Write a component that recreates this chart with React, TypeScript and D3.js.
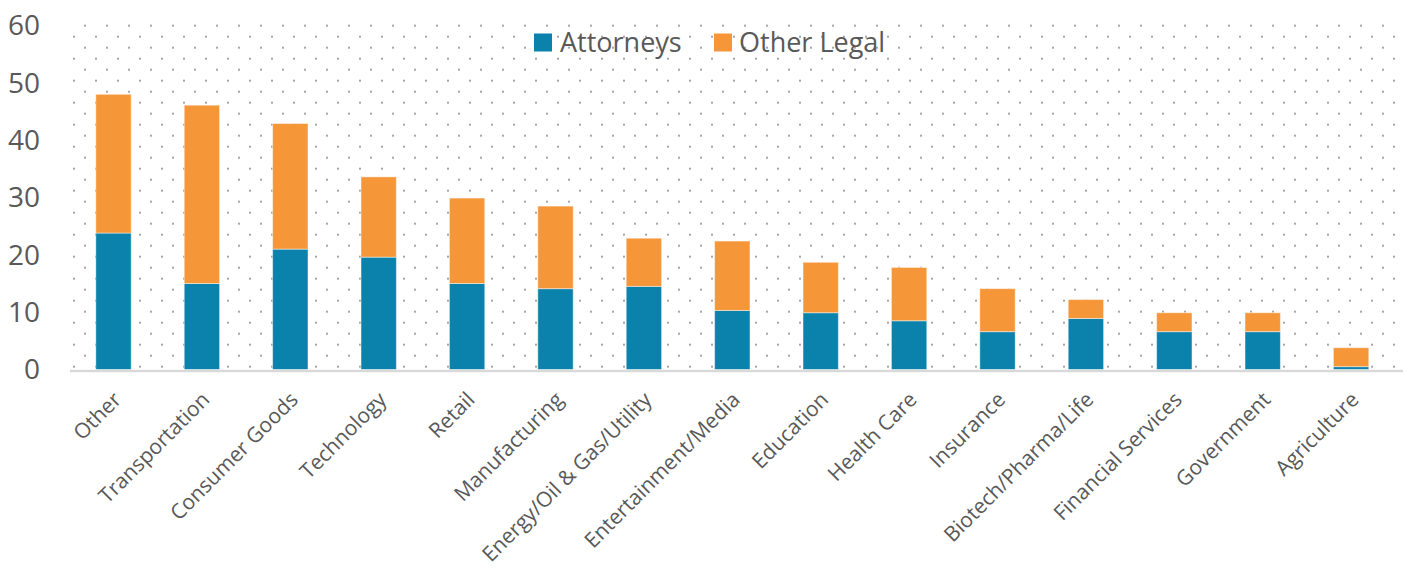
import React from "react";
import * as d3 from "d3";

const categories = [
  "Other",
  "Transportation",
  "Consumer Goods",
  "Technology",
  "Retail",
  "Manufacturing",
  "Energy/Oil & Gas/Utility",
  "Entertainment/Media",
  "Education",
  "Health Care",
  "Insurance",
  "Biotech/Pharma/Life",
  "Financial Services",
  "Government",
  "Agriculture",
];

const attorneys = [23.8, 15.0, 21.0, 19.6, 15.0, 14.1, 14.5, 10.3, 9.9, 8.5, 6.6, 8.9, 6.6, 6.6, 0.5];
const otherLegal = [24.2, 31.1, 21.9, 14.0, 14.9, 14.4, 8.4, 12.1, 8.8, 9.3, 7.5, 3.3, 3.3, 3.3, 3.3];

const seriesNames = ["Attorneys", "Other Legal"];
const seriesColors = ["#0A82AC", "#F59638"];
const yTicks = [0, 10, 20, 30, 40, 50, 60];

const W = 1403;
const H = 569;
const FONT = "'Open Sans', 'Noto Sans', sans-serif";
const TEXT = "#595959";

export default function App() {
  const x = d3
    .scaleBand<string>()
    .domain(categories)
    .range([69.3, 1395.3])
    .paddingInner(0.6)
    .paddingOuter(0.3);

  const y = d3.scaleLinear().domain([0, 60]).range([369.5, 25.5]);

  const rows = categories.map((c, i) => ({
    cat: c,
    Attorneys: attorneys[i],
    "Other Legal": otherLegal[i],
  }));
  const stacked = d3.stack<any>().keys(seriesNames)(rows);

  return (
    <svg
      width={W}
      height={H}
      style={{ position: "absolute", left: 0, top: 0, background: "#fff" }}
    >
      <defs>
        {/* staggered dot grid, 22px period */}
        <pattern
          id="dots"
          patternUnits="userSpaceOnUse"
          x={68}
          y={30.7}
          width={22}
          height={22}
        >
          <rect x={5} y={5} width={2} height={2} fill="#a6a6a6" />
          <rect x={16} y={16} width={2} height={2} fill="#a6a6a6" />
        </pattern>
      </defs>

      <rect x={70} y={22} width={1330} height={348} fill="url(#dots)" />

      {/* y labels */}
      <g fontFamily={FONT} fontSize={28} fill={TEXT}>
        {yTicks.map((t) => (
          <text key={t} x={40} y={y(t)} textAnchor="end" dy="0.35em">
            {t}
          </text>
        ))}
      </g>

      {/* bars */}
      {stacked.map((s, si) => (
        <g key={s.key} fill={seriesColors[si]}>
          {s.map((d, i) => (
            <rect
              key={categories[i]}
              x={x(categories[i])}
              y={y(d[1])}
              width={x.bandwidth()}
              height={y(d[0]) - y(d[1])}
              stroke="rgba(255,255,255,0.45)"
              strokeWidth={1}
            />
          ))}
        </g>
      ))}

      {/* baseline */}
      <line x1={70} x2={1403} y1={371} y2={371} stroke="#d9d9d9" strokeWidth={2.5} />

      {/* x labels */}
      <g fontFamily={FONT} fontSize={21} fill={TEXT}>
        {categories.map((c) => (
          <text
            key={c}
            textAnchor="end"
            transform={`translate(${(x(c) ?? 0) + x.bandwidth() / 2 + 9},${401}) rotate(-45)`}
          >
            {c}
          </text>
        ))}
      </g>

      {/* legend */}
      <g fontFamily={FONT} fontSize={27} fill={TEXT}>
        <rect x={534} y={33.5} width={18} height={18} fill={seriesColors[0]} />
        <text x={560} y={51.5}>{seriesNames[0]}</text>
        <rect x={714} y={33.5} width={18} height={18} fill={seriesColors[1]} />
        <text x={739} y={51.5}>{seriesNames[1]}</text>
      </g>
    </svg>
  );
}
